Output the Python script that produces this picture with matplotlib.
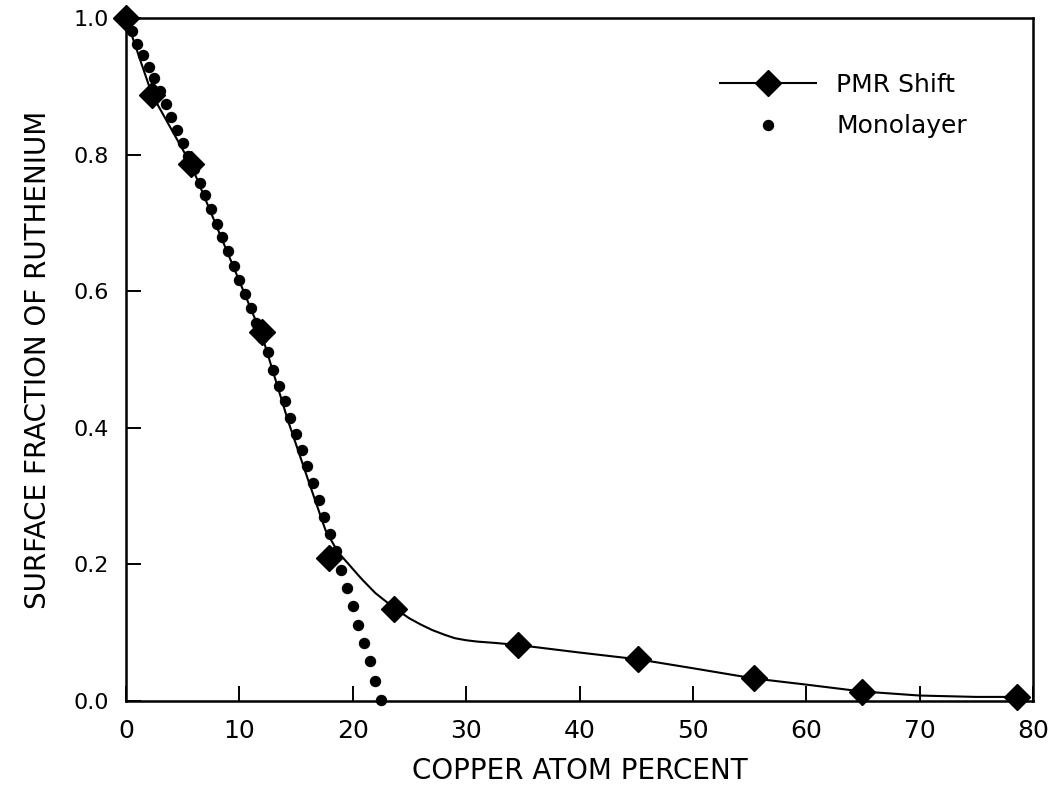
import matplotlib
matplotlib.use("Agg")
import matplotlib.pyplot as plt
from matplotlib.lines import Line2D

# PMR shift measurements (copper atom %, surface fraction of Ru)
pmr_x = [0.0, 2.3, 5.7, 12.0, 17.9, 23.6, 34.6, 45.2, 55.4, 64.9, 78.6]
pmr_y = [1.0, 0.888, 0.787, 0.54, 0.21, 0.135, 0.082, 0.061, 0.033, 0.013, 0.006]

# smooth curve drawn through the PMR points
fit_x = [0.0, 2.3, 5.7, 9.0, 12.0, 14.3, 16.1, 17.6, 18.7, 19.5, 20.5, 21.0,
         22.0, 23.6, 25.0, 26.0, 27.0, 28.1, 29.0, 30.0, 31.0, 32.6, 34.6,
         40.0, 45.2, 50.0, 55.4, 60.0, 64.9, 70.0, 75.0, 78.6]
fit_y = [1.0, 0.888, 0.787, 0.655, 0.535, 0.41, 0.322, 0.25, 0.218, 0.203,
         0.184, 0.175, 0.158, 0.137, 0.121, 0.112, 0.104, 0.097, 0.092,
         0.089, 0.087, 0.085, 0.082, 0.071, 0.061, 0.048, 0.033, 0.024,
         0.014, 0.008, 0.006, 0.006]

# monolayer model
mono_x = [0.0, 0.5, 1.0, 1.5, 2.0, 2.5, 3.0, 3.5, 4.0, 4.5, 5.0, 5.5, 6.0,
          6.5, 7.0, 7.5, 8.0, 8.5, 9.0, 9.5, 10.0, 10.5, 11.0, 11.5, 12.0,
          12.5, 13.0, 13.5, 14.0, 14.5, 15.0, 15.5, 16.0, 16.5, 17.0, 17.5,
          18.0, 18.5, 19.0, 19.5, 20.0, 20.5, 21.0, 21.5, 22.0, 22.5]
mono_y = [1.0, 0.981, 0.963, 0.946, 0.928, 0.913, 0.894, 0.874, 0.855, 0.837,
          0.817, 0.798, 0.779, 0.759, 0.741, 0.720, 0.699, 0.679, 0.659, 0.637,
          0.616, 0.596, 0.575, 0.554, 0.532, 0.511, 0.485, 0.462, 0.439, 0.415,
          0.391, 0.368, 0.344, 0.320, 0.295, 0.269, 0.245, 0.219, 0.192, 0.166,
          0.139, 0.112, 0.085, 0.058, 0.030, 0.002]

xticks = [0, 10, 20, 30, 40, 50, 60, 70, 80]
yticks = [0.0, 0.2, 0.4, 0.6, 0.8, 1.0]

plt.rcParams['font.family'] = ['DejaVu Sans']

fig = plt.figure(figsize=(10.56, 7.93), dpi=100)
ax = fig.add_axes([0.1193, 0.116, 0.859, 0.861])

ax.plot(fit_x, fit_y, color='black', lw=1.5, zorder=2)
ax.plot(mono_x, mono_y, ls='none', marker='o', ms=7.2, color='black',
        zorder=3, clip_on=False)
ax.plot(pmr_x, pmr_y, ls='none', marker='D', ms=13.5, color='black',
        zorder=4, clip_on=False)

ax.set_xlim(0, 80)
ax.set_ylim(0, 1.0)
ax.set_xticks(xticks)
ax.set_xticklabels([str(t) for t in xticks], fontsize=18)
ax.set_yticks(yticks)
ax.set_yticklabels([f"{t:.1f}" for t in yticks], fontsize=16)
ax.tick_params(direction='in', length=11, width=1.4, top=False, right=False)
ax.tick_params(axis='x', pad=13)
ax.tick_params(axis='y', pad=12)
for s in ax.spines.values():
    s.set_linewidth(1.8)

ax.set_xlabel("COPPER ATOM PERCENT", fontsize=20, labelpad=10)
ax.set_ylabel("SURFACE FRACTION OF RUTHENIUM", fontsize=20, labelpad=16)

handles = [
    Line2D([], [], color='black', lw=1.5, marker='D', ms=13.5),
    Line2D([], [], ls='none', marker='o', ms=7.2, color='black'),
]
ax.legend(handles, ["PMR Shift", "Monolayer"], loc='upper left',
          bbox_to_anchor=(0.682, 0.908), bbox_transform=fig.transFigure,
          frameon=False, fontsize=18, handlelength=3.85, handletextpad=0.8,
          labelspacing=0.7, borderpad=0, borderaxespad=0)

fig.savefig("out.png", dpi=100)
